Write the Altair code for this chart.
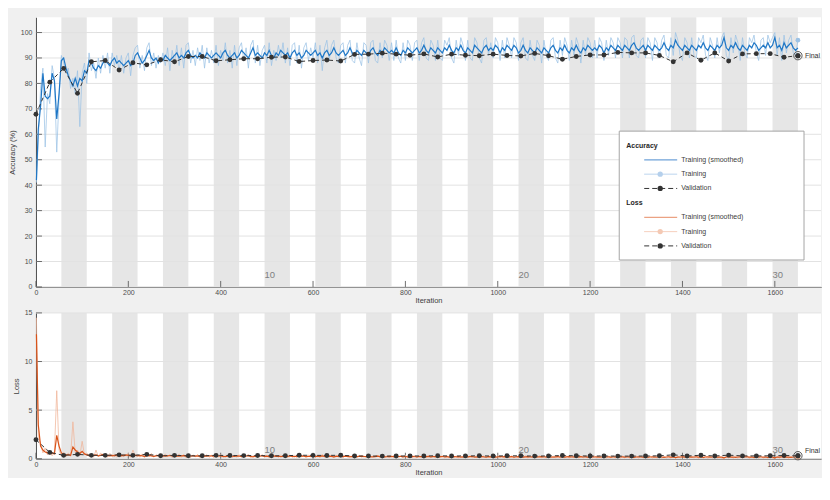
import altair as alt
import pandas as pd

# ---------------- data ----------------
ITERS_PER_EPOCH = 55
N_EPOCHS = 30
X_MAX = 1700

train_iter = [1] + list(range(5, 1651, 5))

acc_smooth = [
    42, 62, 71, 84, 75, 74, 75, 84, 81, 66, 76,
    89, 90, 86, 83, 81, 79, 82, 79, 82, 81, 85,
    84, 89, 88, 86, 85, 87, 86, 88, 89, 88, 87,
    89, 90, 88, 89, 88, 87, 88, 89, 87, 88, 91,
    92, 90, 88, 89, 91, 93, 90, 89, 90, 88, 90,
    89, 91, 90, 89, 90, 91, 92, 90, 91, 90, 92,
    93, 91, 90, 91, 90, 92, 91, 90, 92, 91, 90,
    91, 92, 91, 90, 92, 93, 91, 90, 91, 92, 90,
    91, 93, 92, 91, 90, 92, 94, 91, 92, 91, 90,
    92, 91, 93, 91, 90, 92, 91, 93, 92, 91, 92,
    90, 92, 93, 91, 92, 90, 91, 93, 92, 91, 92,
    93, 91, 92, 90, 92, 93, 91, 92, 94, 92, 91,
    92, 93, 91, 92, 94, 92, 91, 93, 92, 91, 93,
    92, 91, 93, 94, 92, 91, 93, 92, 94, 93, 92,
    93, 92, 94, 92, 91, 93, 92, 94, 93, 92, 93,
    94, 92, 93, 95, 93, 92, 94, 93, 92, 94, 93,
    92, 94, 93, 95, 93, 92, 94, 93, 95, 93, 92,
    94, 93, 92, 95, 94, 93, 92, 94, 95, 93, 94,
    93, 95, 94, 92, 94, 93, 95, 94, 93, 95, 94,
    92, 93, 95, 93, 92, 94, 93, 92, 94, 93, 92,
    94, 93, 92, 94, 95, 93, 92, 94, 93, 95, 93,
    92, 94, 93, 95, 93, 92, 94, 93, 95, 94, 93,
    94, 93, 95, 94, 92, 94, 93, 95, 94, 93, 95,
    94, 93, 95, 94, 93, 95, 96, 94, 93, 94, 95,
    93, 95, 94, 93, 95, 94, 93, 94, 96, 94, 93,
    95, 94, 97, 95, 94, 93, 95, 94, 93, 95, 94,
    93, 95, 94, 96, 94, 93, 95, 94, 93, 95, 94,
    95, 98, 94, 93, 95, 94, 96, 94, 93, 95, 94,
    93, 95, 94, 96, 95, 93, 94, 95, 94, 96, 94,
    95, 98, 94, 95, 93, 96, 94, 95, 96, 94, 93,
    94,
]

acc_raw = [
    41, 58, 78, 86, 55, 76, 72, 87, 82, 53, 74,
    91, 88, 84, 86, 78, 82, 76, 85, 63, 84, 88,
    80, 92, 85, 88, 82, 90, 84, 91, 86, 92, 84,
    92, 87, 91, 85, 91, 84, 90, 92, 83, 91, 94,
    95, 86, 91, 85, 94, 96, 87, 92, 86, 91, 88,
    92, 87, 94, 85, 93, 88, 95, 87, 94, 86, 95,
    96, 88, 93, 87, 94, 89, 95, 86, 94, 88, 93,
    88, 95, 87, 93, 89, 96, 88, 93, 86, 95, 87,
    94, 96, 89, 94, 86, 95, 97, 88, 95, 87, 93,
    95, 88, 96, 87, 93, 89, 95, 90, 96, 88, 94,
    87, 95, 96, 88, 95, 86, 94, 96, 89, 94, 90,
    96, 88, 95, 85, 94, 97, 89, 95, 97, 90, 88,
    95, 96, 88, 95, 97, 89, 88, 96, 90, 87, 96,
    95, 88, 96, 97, 89, 88, 96, 90, 97, 95, 89,
    96, 89, 97, 90, 88, 96, 89, 97, 95, 89, 96,
    97, 89, 96, 98, 90, 89, 97, 95, 89, 97, 90,
    89, 97, 95, 98, 90, 88, 97, 91, 98, 95, 89,
    97, 90, 89, 98, 96, 90, 88, 97, 98, 91, 96,
    90, 98, 96, 89, 97, 90, 98, 95, 90, 98, 96,
    89, 96, 98, 90, 89, 97, 91, 89, 97, 95, 88,
    97, 91, 89, 97, 98, 90, 88, 97, 91, 98, 95,
    89, 97, 91, 98, 95, 88, 97, 91, 98, 96, 90,
    97, 90, 98, 96, 89, 97, 91, 98, 96, 90, 98,
    96, 90, 98, 97, 90, 98, 99, 91, 90, 97, 98,
    90, 98, 96, 89, 98, 96, 90, 97, 99, 91, 90,
    98, 91, 100, 97, 91, 89, 98, 96, 90, 98, 91,
    90, 98, 96, 99, 91, 89, 98, 95, 90, 98, 92,
    98, 100, 91, 89, 98, 92, 99, 96, 89, 98, 92,
    90, 98, 96, 99, 92, 89, 97, 98, 91, 99, 96,
    98, 100, 91, 98, 89, 99, 92, 97, 99, 92, 91,
    97,
]

loss_smooth = [
    12.8, 3.5, 1.3, 0.9, 0.7, 0.6, 0.5, 0.6, 0.5, 2.4, 1.3,
    0.6, 0.45, 0.4, 0.4, 0.35, 1.2, 0.9, 0.7, 0.55, 0.75, 0.5,
    0.4, 0.35, 0.3, 0.35, 0.4, 0.3, 0.35, 0.45, 0.3, 0.35, 0.3,
    0.35, 0.3, 0.4, 0.3, 0.35, 0.3, 0.4, 0.35, 0.3, 0.45, 0.35,
    0.3, 0.35, 0.3, 0.25, 0.3, 0.35, 0.3, 0.25, 0.3, 0.35, 0.3,
    0.32, 0.27, 0.3, 0.33, 0.28, 0.26, 0.3, 0.27, 0.29, 0.31, 0.26,
    0.24, 0.28, 0.3, 0.26, 0.29, 0.25, 0.27, 0.3, 0.26, 0.28, 0.3,
    0.27, 0.25, 0.28, 0.3, 0.24, 0.22, 0.27, 0.29, 0.26, 0.24, 0.29,
    0.27, 0.23, 0.25, 0.28, 0.3, 0.24, 0.2, 0.27, 0.25, 0.28, 0.3,
    0.24, 0.27, 0.22, 0.27, 0.3, 0.25, 0.27, 0.22, 0.24, 0.27, 0.25,
    0.3, 0.25, 0.22, 0.27, 0.25, 0.3, 0.27, 0.22, 0.24, 0.27, 0.25,
    0.22, 0.27, 0.24, 0.29, 0.24, 0.21, 0.26, 0.24, 0.19, 0.24, 0.27,
    0.24, 0.21, 0.26, 0.24, 0.19, 0.24, 0.27, 0.22, 0.24, 0.26, 0.21,
    0.23, 0.26, 0.21, 0.19, 0.24, 0.26, 0.21, 0.23, 0.19, 0.21, 0.24,
    0.21, 0.24, 0.19, 0.23, 0.25, 0.2, 0.23, 0.19, 0.21, 0.24, 0.21,
    0.19, 0.23, 0.21, 0.17, 0.21, 0.24, 0.19, 0.21, 0.23, 0.19, 0.21,
    0.23, 0.19, 0.21, 0.17, 0.21, 0.23, 0.19, 0.21, 0.17, 0.2, 0.23,
    0.19, 0.21, 0.23, 0.17, 0.19, 0.21, 0.23, 0.19, 0.17, 0.21, 0.19,
    0.21, 0.17, 0.19, 0.23, 0.19, 0.21, 0.17, 0.19, 0.21, 0.17, 0.19,
    0.22, 0.2, 0.16, 0.2, 0.22, 0.18, 0.2, 0.22, 0.18, 0.2, 0.22,
    0.18, 0.2, 0.22, 0.18, 0.16, 0.2, 0.22, 0.18, 0.2, 0.16, 0.2,
    0.22, 0.18, 0.2, 0.16, 0.2, 0.22, 0.18, 0.2, 0.16, 0.18, 0.2,
    0.18, 0.2, 0.16, 0.18, 0.22, 0.18, 0.2, 0.16, 0.18, 0.2, 0.16,
    0.18, 0.2, 0.16, 0.18, 0.2, 0.16, 0.14, 0.18, 0.2, 0.18, 0.16,
    0.2, 0.16, 0.18, 0.2, 0.16, 0.18, 0.2, 0.18, 0.14, 0.18, 0.2,
    0.16, 0.18, 0.12, 0.16, 0.18, 0.2, 0.16, 0.18, 0.2, 0.16, 0.18,
    0.2, 0.16, 0.18, 0.14, 0.18, 0.2, 0.16, 0.18, 0.2, 0.16, 0.18,
    0.16, 0.1, 0.18, 0.2, 0.16, 0.18, 0.14, 0.18, 0.2, 0.16, 0.18,
    0.2, 0.16, 0.18, 0.14, 0.16, 0.2, 0.18, 0.16, 0.18, 0.14, 0.18,
    0.16, 0.1, 0.18, 0.16, 0.2, 0.14, 0.18, 0.16, 0.14, 0.18, 0.2,
    0.17,
]

loss_raw = [
    14.5, 2.2, 1.6, 0.6, 1.1, 0.4, 0.8, 0.3, 0.7, 7.0, 0.9,
    0.3, 0.7, 0.2, 0.6, 0.25, 3.8, 0.6, 0.9, 0.3, 1.8, 0.4,
    0.6, 0.2, 0.5, 0.15, 0.9, 0.2, 0.6, 0.3, 0.5, 0.15, 0.55,
    0.2, 0.5, 0.15, 0.6, 0.2, 0.5, 0.25, 0.55, 0.15, 0.9, 0.3,
    0.45, 0.15, 0.5, 0.1, 0.45, 0.2, 0.55, 0.15, 0.4, 0.2, 0.5,
    0.15, 0.5, 0.2, 0.45, 0.1, 0.4, 0.2, 0.5, 0.15, 0.45, 0.1,
    0.35, 0.12, 0.4, 0.18, 0.45, 0.1, 0.38, 0.2, 0.42, 0.14, 0.36,
    0.1, 0.4, 0.16, 0.44, 0.12, 0.35, 0.2, 0.46, 0.1, 0.38, 0.15,
    0.42, 0.12, 0.36, 0.2, 0.48, 0.1, 0.34, 0.15, 0.4, 0.18, 0.44,
    0.12, 0.38, 0.1, 0.42, 0.16, 0.36, 0.12, 0.4, 0.18, 0.44, 0.1,
    0.4, 0.14, 0.36, 0.1, 0.42, 0.18, 0.34, 0.12, 0.4, 0.16, 0.38,
    0.12, 0.36, 0.1, 0.45, 0.14, 0.32, 0.18, 0.38, 0.08, 0.36, 0.15,
    0.34, 0.1, 0.38, 0.14, 0.32, 0.08, 0.4, 0.12, 0.35, 0.1, 0.3,
    0.1, 0.36, 0.12, 0.3, 0.08, 0.38, 0.1, 0.34, 0.12, 0.3, 0.1,
    0.32, 0.1, 0.35, 0.08, 0.3, 0.12, 0.36, 0.08, 0.32, 0.1, 0.34,
    0.08, 0.3, 0.1, 0.34, 0.07, 0.32, 0.1, 0.28, 0.08, 0.33, 0.1,
    0.32, 0.08, 0.3, 0.1, 0.35, 0.07, 0.28, 0.1, 0.32, 0.08, 0.3,
    0.08, 0.33, 0.1, 0.28, 0.07, 0.34, 0.09, 0.3, 0.07, 0.32, 0.1,
    0.3, 0.07, 0.33, 0.09, 0.28, 0.06, 0.32, 0.1, 0.29, 0.07, 0.31,
    0.07, 0.3, 0.08, 0.32, 0.06, 0.28, 0.1, 0.3, 0.07, 0.33, 0.08,
    0.29, 0.06, 0.31, 0.08, 0.27, 0.07, 0.32, 0.06, 0.28, 0.09, 0.3,
    0.06, 0.28, 0.08, 0.31, 0.06, 0.29, 0.07, 0.3, 0.05, 0.27, 0.08,
    0.28, 0.06, 0.3, 0.07, 0.26, 0.05, 0.29, 0.08, 0.27, 0.06, 0.3,
    0.05, 0.27, 0.07, 0.29, 0.06, 0.26, 0.05, 0.28, 0.07, 0.25, 0.06,
    0.27, 0.05, 0.28, 0.07, 0.25, 0.06, 0.29, 0.05, 0.26, 0.07, 0.28,
    0.06, 0.25, 0.04, 0.27, 0.06, 0.29, 0.05, 0.26, 0.07, 0.24, 0.06,
    0.26, 0.05, 0.28, 0.06, 0.25, 0.04, 0.27, 0.06, 0.29, 0.05, 0.25,
    0.05, 0.04, 0.26, 0.07, 0.24, 0.05, 0.27, 0.06, 0.25, 0.04, 0.26,
    0.27, 0.05, 0.25, 0.04, 0.26, 0.06, 0.28, 0.05, 0.24, 0.04, 0.26,
    0.05, 0.03, 0.25, 0.06, 0.27, 0.04, 0.24, 0.05, 0.26, 0.04, 0.23,
    0.1,
]

val_iter = list(range(0, 1651, 30))
val_acc = [
    67.9, 80.5, 85.9, 76.1, 88.5, 89.0, 85.3, 88.1, 87.3, 89.3,
    88.5, 90.6, 90.6, 88.9, 89.3, 89.7, 89.7, 90.3, 90.4, 88.6,
    89.0, 89.2, 88.8, 91.4, 91.5, 91.9, 91.5, 91.1, 91.6, 90.4,
    91.5, 91.1, 90.9, 91.5, 91.0, 90.8, 91.8, 90.9, 89.5, 90.6,
    91.2, 91.2, 92.2, 92.0, 92.0, 91.0, 88.5, 92.0, 89.1, 92.0,
    88.8, 91.6, 91.7, 91.7, 90.3, 90.9,
]
val_loss = [
    1.95, 0.65, 0.35, 0.45, 0.35, 0.35, 0.4, 0.35, 0.45, 0.3,
    0.35, 0.3, 0.3, 0.35, 0.33, 0.32, 0.33, 0.3, 0.31, 0.36,
    0.35, 0.34, 0.36, 0.28, 0.28, 0.27, 0.28, 0.29, 0.28, 0.31,
    0.28, 0.29, 0.3, 0.28, 0.3, 0.3, 0.27, 0.29, 0.33, 0.3,
    0.28, 0.28, 0.27, 0.27, 0.28, 0.3, 0.4, 0.28, 0.36, 0.28,
    0.37, 0.29, 0.29, 0.3, 0.33, 0.31,
]

iter_ticks = list(range(0, 1601, 200))
acc_ticks = list(range(0, 101, 10))
loss_ticks = [0, 5, 10, 15]
epoch_labels = [10, 20, 30]
shaded_epochs = list(range(2, N_EPOCHS + 1, 2))

legend_acc = ["Training (smoothed)", "Training", "Validation"]
legend_loss = ["Training (smoothed)", "Training", "Validation"]

# ---------------- style ----------------
FONT = "Liberation Sans"
BAND = "#e6e6e6"
GRID = "#e2e2e2"
AXIS = "#4d4d4d"
BLUE = "#1f77c6"
LBLUE = "#9cc2e5"
ORANGE = "#d95319"
LORANGE = "#f0b497"
DARK = "#333333"

W = 786
H_TOP, H_BOT = 270, 146

xscale = alt.Scale(domain=[0, X_MAX], nice=False, zero=False)

train_df = pd.DataFrame({"it": train_iter, "acc_s": acc_smooth, "acc_r": acc_raw,
                         "loss_s": loss_smooth, "loss_r": loss_raw})
val_df = pd.DataFrame({"it": val_iter, "acc": val_acc, "loss": val_loss})
final_df = val_df.tail(1)
final_train_df = train_df.tail(1)

X_AXIS = alt.Axis(values=iter_ticks, title="Iteration", grid=False, ticks=False,
                  labelFontSize=7, labelColor=AXIS, labelPadding=2, labelFlush=False,
                  labelOverlap=False,
                  titleFontSize=7.5, titleColor="#404040", titleFontWeight="normal",
                  titlePadding=1, domainColor=AXIS, format="d")


def y_axis(title, values):
    return alt.Axis(values=values, title=title, grid=False, ticks=False,
                    labelFontSize=7, labelColor=AXIS, labelPadding=4, labelOverlap=False,
                    labelFlush=False,
                    titleFontSize=7.5, titleColor="#404040", titleFontWeight="normal",
                    titlePadding=4, domainColor=AXIS, format="d")


def panel(H, ycol_s, ycol_r, yval, ydomain, yticks, ytitle, smooth_col, raw_col,
          final_dy, label_base, legend=False):
    yscale = alt.Scale(domain=ydomain, nice=False, zero=False)
    YAX = y_axis(ytitle, yticks)

    def X(f):
        return alt.X(f, scale=xscale, axis=X_AXIS)

    def Y(f):
        return alt.Y(f, scale=yscale, axis=YAX)

    bands = alt.Chart(pd.DataFrame({"epoch": shaded_epochs})).transform_calculate(
        x0=f"(datum.epoch - 1) * {ITERS_PER_EPOCH}", x1=f"datum.epoch * {ITERS_PER_EPOCH}"
    ).mark_rect(color=BAND).encode(
        x=X("x0:Q"), x2="x1:Q", y=alt.value(0), y2=alt.value(H))

    grid = alt.Chart(pd.DataFrame({"v": yticks})).mark_rule(color=GRID, strokeWidth=1).encode(
        y=Y("v:Q"), x=alt.value(0), x2=alt.value(W))

    yt = alt.Chart(pd.DataFrame({"v": yticks})).mark_rule(color=AXIS, strokeWidth=0.8).encode(
        y=Y("v:Q"), x=alt.value(0), x2=alt.value(6))
    xt = alt.Chart(pd.DataFrame({"v": iter_ticks})).mark_rule(color=AXIS, strokeWidth=0.8).encode(
        x=X("v:Q"), y=alt.value(H), y2=alt.value(H - 6))

    elab = alt.Chart(pd.DataFrame({"epoch": epoch_labels})).transform_calculate(
        xs=f"(datum.epoch - 1) * {ITERS_PER_EPOCH}"
    ).mark_text(align="left", baseline="alphabetic", fontSize=9.5, color="#808080", font=FONT).encode(
        x=X("xs:Q"), y=alt.value(H - label_base), text="epoch:Q")

    raw = alt.Chart(train_df).mark_line(color=raw_col, strokeWidth=1, opacity=0.75).encode(
        x=X("it:Q"), y=Y(f"{ycol_r}:Q"))
    smooth = alt.Chart(train_df).mark_line(color=smooth_col, strokeWidth=1.2).encode(
        x=X("it:Q"), y=Y(f"{ycol_s}:Q"))
    vline = alt.Chart(val_df).mark_line(color=DARK, strokeWidth=1, strokeDash=[4, 3]).encode(
        x=X("it:Q"), y=Y(f"{yval}:Q"))
    vpts = alt.Chart(val_df).mark_circle(color=DARK, size=24, opacity=1).encode(
        x=X("it:Q"), y=Y(f"{yval}:Q"))
    fraw = alt.Chart(final_train_df).mark_circle(color=raw_col, size=22, opacity=1).encode(
        x=X("it:Q"), y=Y(f"{ycol_r}:Q"))
    fring = alt.Chart(final_df).mark_point(shape="circle", filled=False, size=70, color="#555555",
                                           strokeWidth=1, opacity=1).encode(
        x=X("it:Q"), y=Y(f"{yval}:Q"))
    fdot = alt.Chart(final_df).mark_circle(color=DARK, size=26, opacity=1).encode(
        x=X("it:Q"), y=Y(f"{yval}:Q"))
    ftxt = alt.Chart(final_df).transform_calculate(lbl="'Final'").mark_text(
        align="left", baseline="middle", dx=7, dy=final_dy, fontSize=7, color="#333333", font=FONT
    ).encode(x=X("it:Q"), y=Y(f"{yval}:Q"), text="lbl:N")

    layers = [bands, grid, yt, xt, elab, raw, smooth, vline, vpts, fraw, fring, fdot, ftxt]

    if legend:
        one = pd.DataFrame({"k": [0]})
        bx0, bx1, by0, by1 = 584, 769, 114, 243
        layers.append(alt.Chart(one).mark_rect(fill="white", stroke="#a6a6a6", strokeWidth=1).encode(
            x=alt.value(bx0), x2=alt.value(bx1), y=alt.value(by0), y2=alt.value(by1)))
        lx0, lx1, ldot, tx, hx = 609, 642, 625, 646, 591
        groups = [("Accuracy", 128.5, legend_acc, ["#6fa2d8", "#b5d0ec", DARK]),
                  ("Loss", 186, legend_loss, ["#eba283", "#f4c9b4", DARK])]
        for head, hy, labels, cols in groups:
            layers.append(alt.Chart(pd.DataFrame({"t": [head]})).mark_text(
                align="left", baseline="middle", fontSize=7, fontWeight="bold", color="#262626",
                font=FONT).encode(x=alt.value(hx), y=alt.value(hy), text="t:N"))
            for i, (lab, col) in enumerate(zip(labels, cols)):
                yy = hy + 14.3 * (i + 1)
                dash = [5, 3] if i == 2 else [1, 0]
                layers.append(alt.Chart(one).mark_rule(color=col, strokeWidth=1.2 if i == 0 else 1,
                                                       strokeDash=dash).encode(
                    x=alt.value(lx0), x2=alt.value(lx1), y=alt.value(yy)))
                if i > 0:
                    layers.append(alt.Chart(one).mark_circle(color=col, size=28, opacity=1).encode(
                        x=alt.value(ldot), y=alt.value(yy)))
                layers.append(alt.Chart(pd.DataFrame({"t": [lab]})).mark_text(
                    align="left", baseline="middle", fontSize=7, color="#404040", font=FONT).encode(
                    x=alt.value(tx), y=alt.value(yy), text="t:N"))

    return alt.layer(*layers).properties(width=W, height=H)


top = panel(H_TOP, "acc_s", "acc_r", "acc", [0, 106], acc_ticks, "Accuracy (%)",
            BLUE, LBLUE, 0, 9, legend=True)
bottom = panel(H_BOT, "loss_s", "loss_r", "loss", [0, 15], loss_ticks, "Loss",
               ORANGE, LORANGE, -5, 6)

chart = alt.vconcat(top, bottom, spacing=4).properties(
    background="#f0f0f0",
    padding={"left": 0, "top": 9, "right": 0, "bottom": 1},
).configure_view(fill="white", strokeWidth=0).configure_axis(
    labelFont=FONT, titleFont=FONT).configure_text(font=FONT)

chart.save("out.html", embed_options={"renderer": "svg", "actions": False})
